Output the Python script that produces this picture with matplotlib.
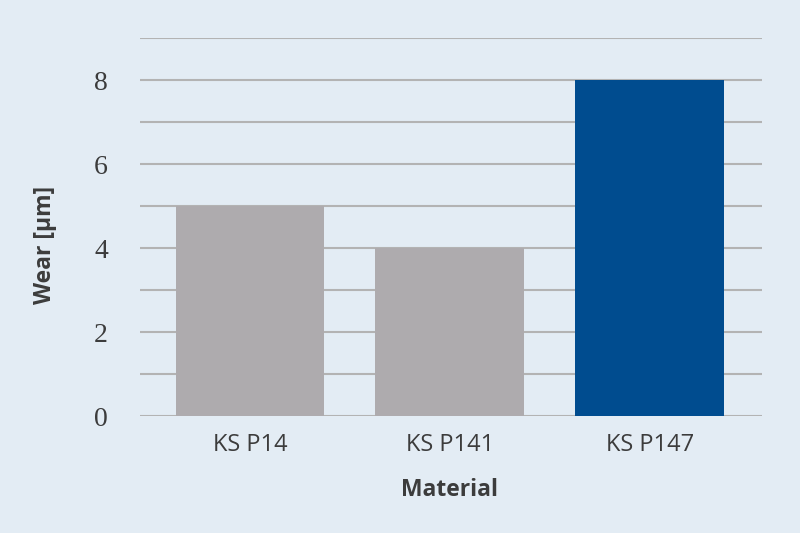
import matplotlib
matplotlib.use("Agg")
import matplotlib.pyplot as plt

categories = ["KS P14", "KS P141", "KS P147"]
wear = [5, 4, 8]
colors = ["#aeabae", "#aeabae", "#004c8f"]
yticks = [0, 2, 4, 6, 8]

bg = "#e3ecf4"
txt = "#3c3c3c"

fig = plt.figure(figsize=(8, 5.33), dpi=100, facecolor=bg)
ax = fig.add_axes([0.175, 0.2195, 0.7775, 0.7092])
ax.set_facecolor(bg)

x = range(len(categories))
ax.bar(x, wear, width=0.745, color=colors, zorder=3)

ax.set_xlim(-0.55, 2.56)
ax.set_ylim(0, 9)
ax.set_yticks(yticks)
ax.set_yticks(range(0, 10), minor=True)
ax.yaxis.grid(True, which="both", color="#b3b3b3", linewidth=1.5, zorder=0)
ax.set_axisbelow(True)
ax.tick_params(axis="both", which="both", length=0)
ax.tick_params(axis="y", pad=23)
ax.tick_params(axis="x", pad=12)

for s in ax.spines.values():
    s.set_visible(False)

ax.set_xticks(list(x))
ax.set_xticklabels(categories, fontfamily="Open Sans", fontsize=17, color=txt)
ax.set_yticklabels([str(v) for v in yticks], fontfamily="Liberation Serif", fontsize=20, color=txt)

ax.set_xlabel("Material", fontfamily="Open Sans", fontweight="bold", fontsize=16.5, color=txt)
ax.xaxis.set_label_coords((450 - 140) / 622, -(490 - 416) / 378)
ax.set_ylabel("Wear [µm]", fontfamily="Open Sans", fontweight="bold", fontsize=16.5, color=txt)
ax.yaxis.set_label_coords((45 - 140) / 622, (416 - 245) / 378)
ax.xaxis.label.set_va("center")
ax.yaxis.label.set_va("center")

fig.savefig("out.png", dpi=100, facecolor=bg)
